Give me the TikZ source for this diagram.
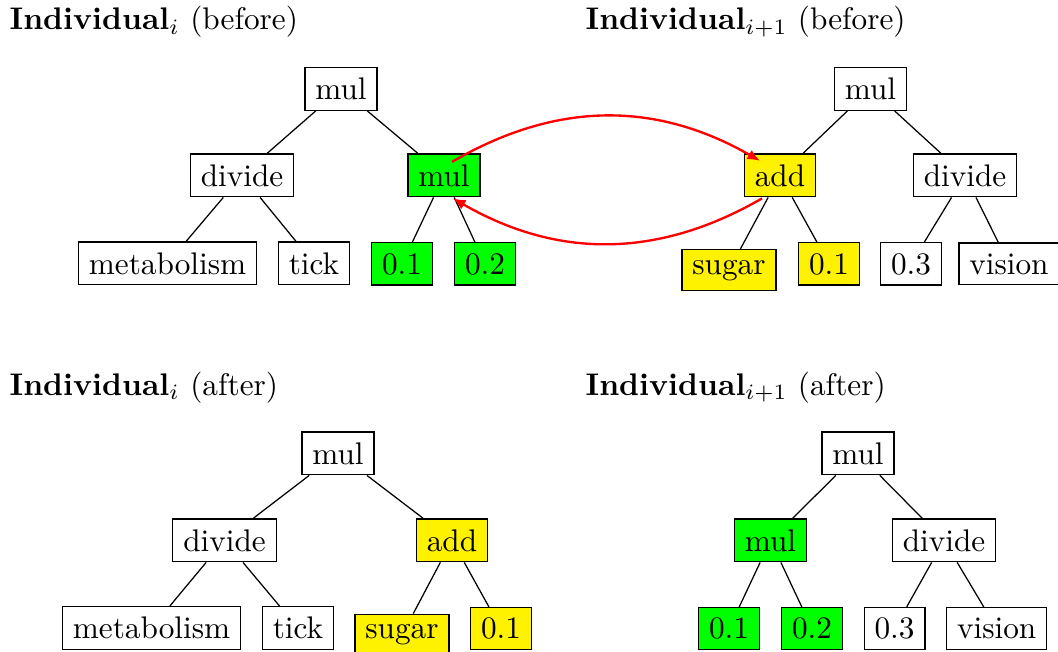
\documentclass[tikz,border=0pt]{standalone}
\usetikzlibrary{arrows.meta}
\tikzset{
  gpnode/.style={draw=black, line width=0.4pt, rectangle, anchor=base, inner sep=0.3333em},
  gfill/.style={gpnode, fill=green},
  yfill/.style={gpnode, fill=yellow},
  treeline/.style={draw=black, line width=0.4pt},
  xover/.style={draw=red, line width=0.75pt, -{Latex[length=4pt,width=3.4pt]}},
  title/.style={anchor=base west, inner sep=0pt}
}
\begin{document}
\begin{tikzpicture}[x=0.32pt, y=-0.32pt]
\useasboundingbox (0,0) rectangle (1058,651);

% Individual i, before crossover
\node[title] (t1) at (9,29.5) {\textbf{Individual}$_i$ (before)};
\node[gpnode] (a0) at (341,99.5) {mul};
\node[gpnode] (a1) at (242,186) {divide};
\node[gfill]  (a2) at (444,186) {mul};
\node[gpnode] (a11) at (167.5,274) {metabolism};
\node[gpnode] (a12) at (314,274) {tick};
\node[gfill]  (a21) at (402,274) {0.1};
\node[gfill]  (a22) at (485,274) {0.2};

% Individual i+1, before crossover
\node[title] (t2) at (585,29.5) {\textbf{Individual}$_{i+1}$ (before)};
\node[gpnode] (b0) at (870.5,99.5) {mul};
\node[yfill]  (b1) at (780,186) {add};
\node[gpnode] (b2) at (965,186) {divide};
\node[yfill]  (b11) at (729,274) {sugar};
\node[yfill]  (b12) at (829,274) {0.1};
\node[gpnode] (b21) at (911,274) {0.3};
\node[gpnode] (b22) at (1009,274) {vision};

% Individual i, after crossover
\node[title] (t3) at (9,395) {\textbf{Individual}$_i$ (after)};
\node[gpnode] (c0) at (338,464) {mul};
\node[gpnode] (c1) at (224.5,551) {divide};
\node[yfill]  (c2) at (452,551) {add};
\node[gpnode] (c11) at (151.5,638.7) {metabolism};
\node[gpnode] (c12) at (298,638.7) {tick};
\node[yfill]  (c21) at (402,638.7) {sugar};
\node[yfill]  (c22) at (501,638.7) {0.1};

% Individual i+1, after crossover
\node[title] (t4) at (585,395) {\textbf{Individual}$_{i+1}$ (after)};
\node[gpnode] (d0) at (858,464) {mul};
\node[gfill]  (d1) at (770.5,551) {mul};
\node[gpnode] (d2) at (944,551) {divide};
\node[gfill]  (d11) at (729,638.7) {0.1};
\node[gfill]  (d12) at (812,638.7) {0.2};
\node[gpnode] (d21) at (894.5,638.7) {0.3};
\node[gpnode] (d22) at (996.7,638.7) {vision};

% tree edges
\foreach \p/\c in {a0/a1,a0/a2,a1/a11,a1/a12,a2/a21,a2/a22,
                   b0/b1,b0/b2,b1/b11,b1/b12,b2/b21,b2/b22,
                   c0/c1,c0/c2,c1/c11,c1/c12,c2/c21,c2/c22,
                   d0/d1,d0/d2,d1/d11,d1/d12,d2/d21,d2/d22}
  \path[treeline] (\p) -- (\c);

% subtree exchange
\draw[xover] ([shift={(8,-13.5)}]a2.center) to[bend left=30] ([shift={(-20,-14.5)}]b1.center);
\draw[xover] ([shift={(-18,1)}]b1.south) to[bend left=30] ([shift={(9,1)}]a2.south);
\end{tikzpicture}
\end{document}
